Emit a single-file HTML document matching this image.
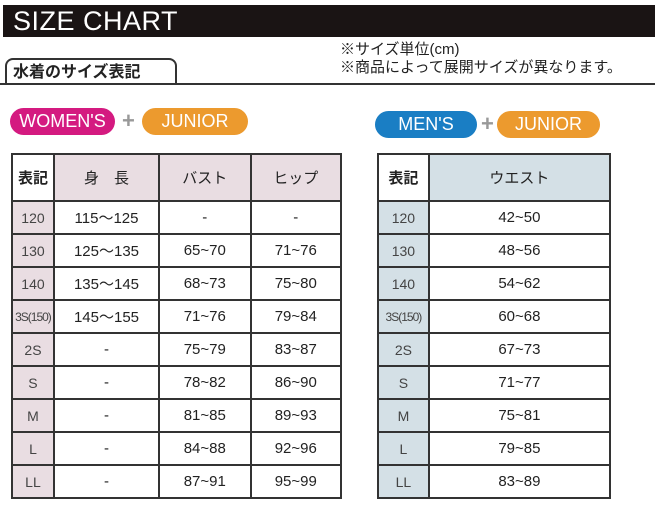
<!DOCTYPE html>
<html><head><meta charset="utf-8"><style>
body{margin:0;width:655px;height:529px;background:#fff;position:relative;overflow:hidden;font-family:"Liberation Sans","Noto Sans CJK JP",sans-serif;color:#222}
.a{position:absolute}
.bar{left:3px;top:5px;width:652px;height:32px;background:#1a1414;color:#fff;font-size:27px;line-height:32px;padding-left:10px;box-sizing:border-box;letter-spacing:0.5px}
.sub{left:5px;top:58px;width:172px;height:25px;border:2px solid #333;border-bottom:none;border-radius:8px 8px 0 0;font-size:16px;font-weight:bold;line-height:26px;padding-left:6px;box-sizing:border-box}
.subl{left:0;top:83px;width:655px;height:2px;background:#333}
.note{left:340px;top:41px;font-size:15px;line-height:18px}
.pill{height:27px;border-radius:14px;color:#fff;font-size:18px;line-height:27px;text-align:center}
.plus{color:#999;font-size:22px;font-weight:bold}
table{position:absolute;border-collapse:collapse;font-size:15px}
td{border:2px solid #333;text-align:center;height:31px;padding:0}
tr.h td{height:45px;font-size:15px}
td.k{font-size:14px;color:#444}
</style></head><body>
<div class="a bar">SIZE CHART</div>
<div class="a sub">水着のサイズ表記</div>
<div class="a subl"></div>
<div class="a note">※サイズ単位(cm)<br>※商品によって展開サイズが異なります。</div>
<div class="a pill" style="left:10px;top:108px;width:105px;background:#d41a80">WOMEN'S</div>
<div class="a plus" style="left:122px;top:108px">+</div>
<div class="a pill" style="left:142px;top:108px;width:106px;background:#ec9a2e">JUNIOR</div>
<div class="a pill" style="left:375px;top:111px;width:102px;background:#1a7ec4">MEN'S</div>
<div class="a plus" style="left:481px;top:111px">+</div>
<div class="a pill" style="left:497px;top:111px;width:103px;background:#ec9a2e">JUNIOR</div>

<table style="left:11px;top:153px;width:331px">
<colgroup><col style="width:42px"><col style="width:106px"><col style="width:92px"><col style="width:91px"></colgroup>
<tr class="h"><td style="font-weight:bold">表記</td><td style="background:#e9dde2">身　長</td><td style="background:#e9dde2">バスト</td><td style="background:#e9dde2">ヒップ</td></tr>
<tr><td class="k" style="background:#e9dde2">120</td><td>115～125</td><td>-</td><td>-</td></tr>
<tr><td class="k" style="background:#e9dde2">130</td><td>125～135</td><td>65~70</td><td>71~76</td></tr>
<tr><td class="k" style="background:#e9dde2">140</td><td>135～145</td><td>68~73</td><td>75~80</td></tr>
<tr><td class="k" style="background:#e9dde2;font-size:12px;letter-spacing:-1px">3S(150)</td><td>145～155</td><td>71~76</td><td>79~84</td></tr>
<tr><td class="k" style="background:#e9dde2">2S</td><td>-</td><td>75~79</td><td>83~87</td></tr>
<tr><td class="k" style="background:#e9dde2">S</td><td>-</td><td>78~82</td><td>86~90</td></tr>
<tr><td class="k" style="background:#e9dde2">M</td><td>-</td><td>81~85</td><td>89~93</td></tr>
<tr><td class="k" style="background:#e9dde2">L</td><td>-</td><td>84~88</td><td>92~96</td></tr>
<tr><td class="k" style="background:#e9dde2">LL</td><td>-</td><td>87~91</td><td>95~99</td></tr>
</table>

<table style="left:377px;top:153px;width:234px">
<colgroup><col style="width:51px"><col style="width:183px"></colgroup>
<tr class="h"><td style="font-weight:bold">表記</td><td style="background:#d4e0e6">ウエスト</td></tr>
<tr><td class="k" style="background:#d4e0e6">120</td><td>42~50</td></tr>
<tr><td class="k" style="background:#d4e0e6">130</td><td>48~56</td></tr>
<tr><td class="k" style="background:#d4e0e6">140</td><td>54~62</td></tr>
<tr><td class="k" style="background:#d4e0e6;font-size:12px;letter-spacing:-1px">3S(150)</td><td>60~68</td></tr>
<tr><td class="k" style="background:#d4e0e6">2S</td><td>67~73</td></tr>
<tr><td class="k" style="background:#d4e0e6">S</td><td>71~77</td></tr>
<tr><td class="k" style="background:#d4e0e6">M</td><td>75~81</td></tr>
<tr><td class="k" style="background:#d4e0e6">L</td><td>79~85</td></tr>
<tr><td class="k" style="background:#d4e0e6">LL</td><td>83~89</td></tr>
</table>
</body></html>
